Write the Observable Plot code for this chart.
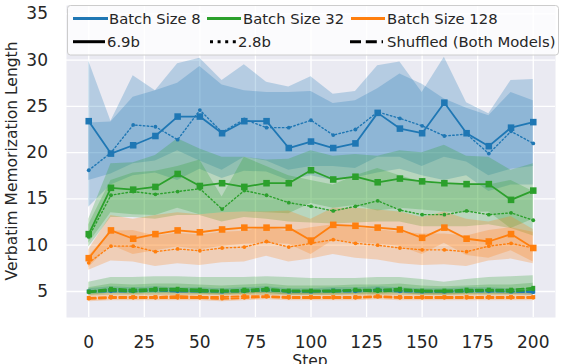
<!DOCTYPE html>
<html><head><meta charset="utf-8">
<script src="https://cdn.jsdelivr.net/npm/d3@7"></script>
<script src="https://cdn.jsdelivr.net/npm/@observablehq/plot@0.6"></script>
<style>
html,body{margin:0;padding:0;background:#fff;}
#chart{position:relative;width:561px;height:364px;overflow:hidden;}
</style></head><body><div id="chart"></div>
<script>
const steps = [0,10,20,30,40,50,60,70,80,90,100,110,120,130,140,150,160,170,180,190,200];
const xTicks = [0,25,50,75,100,125,150,175,200];
const yTicks = [5,10,15,20,25,30,35];
const batchLabels = ["Batch Size 8","Batch Size 32","Batch Size 128"];
const modelLabels = ["6.9b","2.8b","Shuffled (Both Models)"];
const batchColors = ["#1f77b4","#2ca02c","#ff7f0e"];

// Batch size 8
const b8_69 = [23.4,19.9,20.8,21.8,23.9,23.9,22.1,23.4,23.4,20.5,21.2,20.5,21.0,24.3,22.6,22.1,25.4,22.1,20.7,22.7,23.3];
const b8_69_hi = [29.9,23.4,28.3,26.7,29.6,30.2,27.8,29.5,27.6,27.1,28.2,26.3,26.6,29.4,29.8,26.5,30.3,25.4,24.2,27.8,27.9];
const b8_69_lo = [17.0,17.7,18.8,19.1,20.2,19.1,18.1,19.5,19.1,18.1,18.5,18.5,18.3,19.5,19.5,18.5,19.5,19.0,17.5,18.2,18.5];
const b8_28 = [18.1,20.0,23.0,22.8,21.4,24.6,22.2,23.6,22.7,22.7,23.5,21.9,22.5,24.4,23.7,22.9,21.8,22.0,19.9,22.3,21.0];
const b8_28_hi = [23.2,23.3,26.0,26.7,27.5,29.3,27.3,26.7,26.5,26.5,26.6,25.3,25.6,26.9,28.5,27.4,25.8,24.8,24.0,26.5,25.6];
const b8_28_lo = [14.1,16.5,17.5,17.8,17.0,18.2,17.2,18.0,17.9,17.0,17.5,17.0,17.3,17.8,18.2,17.5,17.0,17.5,15.8,16.5,16.5];
const b8_69s = [5.0,5.2,5.1,5.2,5.1,5.1,5.0,5.1,5.2,5.0,5.0,5.1,5.1,5.2,5.1,5.0,5.0,5.1,5.1,5.0,5.0];
const b8_28s = [5.0,5.0,5.0,5.1,5.0,5.0,5.0,5.0,5.1,5.0,5.0,5.0,5.0,5.1,5.0,5.0,5.0,5.0,5.0,5.0,4.9];
const b8_s_hi = [5.3,5.5,5.4,5.5,5.4,5.4,5.3,5.4,5.5,5.3,5.3,5.4,5.4,5.5,5.4,5.3,5.3,5.4,5.4,5.3,5.3];
const b8_s_lo = [4.7,4.8,4.8,4.8,4.8,4.8,4.7,4.8,4.8,4.7,4.7,4.8,4.8,4.8,4.8,4.7,4.7,4.8,4.8,4.7,4.6];

// Batch size 32
const b32_69 = [11.2,16.2,16.0,16.3,17.7,16.4,16.7,16.3,16.7,16.7,18.1,17.1,17.4,16.8,17.2,16.9,16.7,16.6,16.6,14.9,15.9];
const b32_69_hi = [12.8,18.8,18.9,19.7,21.5,20.4,19.5,19.5,19.2,19.3,20.2,19.6,19.8,19.6,20.2,20.0,20.8,19.6,19.5,18.1,18.8];
const b32_69_lo = [10.2,13.5,13.3,13.2,14.0,13.3,13.5,13.6,13.5,13.4,14.5,14.0,14.3,13.7,14.0,13.8,13.6,13.5,13.6,11.8,12.8];
const b32_28 = [10.9,15.4,15.8,15.5,15.8,16.1,13.9,15.9,15.4,14.6,14.2,13.7,14.2,14.8,13.8,13.3,13.3,13.7,13.3,13.5,12.7];
const b32_28_hi = [12.2,17.0,17.8,18.0,18.5,19.2,15.2,19.5,18.5,17.5,17.0,16.5,17.5,18.3,17.5,16.8,16.5,16.7,16.5,17.0,15.8];
const b32_28_lo = [9.8,13.0,13.0,12.8,13.2,13.2,12.5,13.0,12.8,12.5,12.4,12.3,12.4,12.5,12.5,12.0,12.0,12.0,12.2,11.8,11.0];
const b32_69s = [5.0,5.3,5.2,5.3,5.3,5.2,5.1,5.2,5.3,5.1,5.1,5.1,5.2,5.2,5.3,5.1,5.1,5.2,5.2,5.2,5.4];
const b32_69s_hi = [5.4,5.8,5.7,5.8,5.8,5.7,5.6,5.7,5.8,5.6,5.6,5.6,5.7,5.7,5.8,5.6,5.5,5.6,5.7,5.7,5.9];
const b32_69s_lo = [4.6,4.8,4.7,4.8,4.8,4.7,4.6,4.7,4.8,4.6,4.6,4.6,4.7,4.7,4.8,4.6,4.6,4.7,4.7,4.7,4.9];
const b32_28s = [4.9,5.1,5.0,5.1,5.1,5.0,5.0,5.0,5.1,5.0,5.0,5.0,5.1,5.0,5.1,5.0,5.0,5.0,5.1,5.0,5.2];
const b32_28s_hi = [6.0,6.5,6.5,6.6,6.6,6.5,6.5,6.5,6.6,6.5,6.4,6.4,6.4,6.5,6.5,6.3,6.0,6.3,6.5,6.6,6.7];
const b32_28s_lo = [4.5,4.6,4.6,4.6,4.6,4.6,4.6,4.6,4.6,4.6,4.6,4.6,4.6,4.6,4.6,4.6,4.6,4.6,4.6,4.6,4.6];

// Batch size 128
const b128_69 = [8.6,11.6,10.7,11.2,11.6,11.4,11.7,11.9,11.9,11.9,10.5,12.2,12.1,11.9,11.7,10.8,11.9,10.7,10.4,11.2,9.7];
const b128_69_hi = [9.5,13.2,12.8,13.2,13.5,13.3,13.5,13.6,13.6,13.7,12.8,14.0,14.0,13.8,13.6,13.0,13.6,12.8,12.5,13.1,11.7];
const b128_69_lo = [7.6,10.0,9.0,9.4,9.8,9.5,9.9,10.1,10.2,10.1,9.0,10.5,10.3,10.1,9.9,9.0,10.2,8.9,8.6,9.4,8.2];
const b128_28 = [8.1,9.9,9.9,9.3,9.6,9.4,9.7,9.8,10.4,9.8,10.2,10.6,10.2,10.0,9.7,9.5,9.5,9.3,9.9,10.2,9.7];
const b128_28_hi = [8.8,11.5,11.6,11.0,11.3,11.1,11.4,11.5,12.0,11.5,11.9,12.2,11.9,11.7,11.4,11.2,11.2,11.0,11.6,11.9,11.4];
const b128_28_lo = [7.3,8.3,8.2,7.7,8.0,7.8,8.1,8.2,8.8,8.2,8.5,9.0,8.6,8.4,8.0,7.8,7.9,7.7,8.3,8.5,8.0];
const b128_69s = [4.3,4.4,4.4,4.4,4.5,4.4,4.4,4.5,4.5,4.4,4.4,4.4,4.4,4.5,4.4,4.4,4.4,4.4,4.4,4.4,4.4];
const b128_28s = [4.2,4.3,4.3,4.3,4.3,4.3,4.2,4.3,4.4,4.3,4.3,4.3,4.3,4.4,4.3,4.3,4.3,4.3,4.3,4.3,4.3];
const b128_s_hi = [4.7,4.8,4.8,4.8,4.9,4.8,4.8,4.9,4.9,4.8,4.8,4.8,4.8,4.9,4.8,4.8,4.8,4.8,4.8,4.8,4.8];
const b128_s_lo = [3.9,4.0,4.0,4.0,4.0,4.0,3.9,4.0,4.1,4.0,4.0,4.0,4.0,4.1,4.0,4.0,4.0,4.0,4.0,4.0,4.0];

const rows = (ys) => steps.map((s, i) => ({step: s, v: ys[i]}));
const bandRows = (lo, hi) => steps.map((s, i) => ({step: s, lo: lo[i], hi: hi[i]}));

const bands = [
  [b8_69_lo, b8_69_hi, 0], [b8_28_lo, b8_28_hi, 0], [b8_s_lo, b8_s_hi, 0],
  [b32_69_lo, b32_69_hi, 1], [b32_28_lo, b32_28_hi, 1], [b32_69s_lo, b32_69s_hi, 1], [b32_28s_lo, b32_28s_hi, 1],
  [b128_69_lo, b128_69_hi, 2], [b128_28_lo, b128_28_hi, 2], [b128_s_lo, b128_s_hi, 2]
];
const lines = [
  [b8_69, 0, "solid"], [b8_28, 0, "dot"],
  [b32_69, 1, "solid"], [b32_28, 1, "dot"],
  [b128_69, 2, "solid"], [b128_28, 2, "dot"],
  [b8_69s, 0, "dashSq"], [b8_28s, 0, "dashCi"],
  [b32_69s, 1, "dashSq"], [b32_28s, 1, "dashCi"],
  [b128_69s, 2, "dashSq"], [b128_28s, 2, "dashCi"]
];

const marks = [
  Plot.frame({fill: "#EAEAF2", stroke: "none"}),
  Plot.ruleX(xTicks, {stroke: "#ffffff", strokeWidth: 1.3}),
  Plot.ruleY(yTicks, {stroke: "#ffffff", strokeWidth: 1.3})
];
for (const [lo, hi, c] of bands) {
  marks.push(Plot.areaY(bandRows(lo, hi), {x: "step", y1: "lo", y2: "hi", fill: batchColors[c], fillOpacity: 0.26}));
}
for (const [vals, c, st] of lines) {
  const col = batchColors[c];
  const data = rows(vals);
  if (st === "solid") {
    marks.push(Plot.line(data, {x: "step", y: "v", stroke: col, strokeWidth: 1.8}));
    marks.push(Plot.dot(data, {x: "step", y: "v", symbol: "square", r: 3.7, fill: col, stroke: "none"}));
  } else if (st === "dot") {
    marks.push(Plot.line(data, {x: "step", y: "v", stroke: col, strokeWidth: 1.4, strokeDasharray: "1.5,2.4"}));
    marks.push(Plot.dot(data, {x: "step", y: "v", r: 1.9, fill: col, stroke: "none"}));
  } else if (st === "dashSq") {
    marks.push(Plot.line(data, {x: "step", y: "v", stroke: col, strokeWidth: 1.9, strokeDasharray: "7,3.2"}));
    marks.push(Plot.dot(data, {x: "step", y: "v", symbol: "square", r: 2.2, fill: col, stroke: "none"}));
  } else {
    marks.push(Plot.line(data, {x: "step", y: "v", stroke: col, strokeWidth: 1.9, strokeDasharray: "7,3.2"}));
    marks.push(Plot.dot(data, {x: "step", y: "v", r: 1.7, fill: col, stroke: "none"}));
  }
}

const plot = Plot.plot({
  width: 561, height: 364,
  marginLeft: 66, marginRight: 6, marginTop: 5, marginBottom: 47,
  style: {background: "transparent", fontFamily: "DejaVu Sans", fontSize: "17px", color: "#262626", overflow: "visible"},
  x: {domain: [-10, 210], ticks: xTicks, tickSize: 0, tickPadding: 18.5, label: null},
  y: {domain: [2.19, 35.9], ticks: yTicks, tickSize: 0, tickPadding: 18.5, label: null},
  marks
});
document.getElementById("chart").appendChild(plot);

const svg = d3.select(plot);
svg.append("text").attr("x", 310).attr("y", 366).attr("text-anchor", "middle")
  .attr("font-family", "DejaVu Sans").attr("font-size", 15.5).attr("fill", "#262626").text("Step");
svg.append("text").attr("transform", "translate(17,161) rotate(-90)").attr("text-anchor", "middle")
  .attr("font-family", "DejaVu Sans").attr("font-size", 15.5).attr("fill", "#262626").text("Verbatim Memorization Length");

const lg = svg.append("g").attr("font-family", "DejaVu Sans").attr("font-size", 14.8)
  .attr("fill", "#262626").attr("text-anchor", "start");
lg.append("rect").attr("x", 67.5).attr("y", 5.5).attr("width", 491).attr("height", 49.5).attr("rx", 3)
  .attr("fill", "#ffffff").attr("fill-opacity", 0.8).attr("stroke", "#cccccc").attr("stroke-width", 1);
const row1 = [[73, 108, 109], [207, 241, 243], [351, 385, 387]];
batchLabels.forEach((t, i) => {
  const [a, b, tx] = row1[i];
  lg.append("line").attr("x1", a).attr("x2", b).attr("y1", 18.5).attr("y2", 18.5)
    .attr("stroke", batchColors[i]).attr("stroke-width", 3);
  lg.append("text").attr("x", tx).attr("y", 24).attr("text-anchor", "start").text(t);
});
const row2 = [[73, 105, 107, null], [210, 237, 238, "3,4.6"], [350, 383, 387, "11,4.8"]];
modelLabels.forEach((t, i) => {
  const [a, b, tx, da] = row2[i];
  const ln = lg.append("line").attr("x1", a).attr("x2", b).attr("y1", 41.7).attr("y2", 41.7)
    .attr("stroke", "#000000").attr("stroke-width", 3);
  if (da) ln.attr("stroke-dasharray", da);
  lg.append("text").attr("x", tx).attr("y", 47).attr("text-anchor", "start").text(t);
});
</script>
</body></html>
